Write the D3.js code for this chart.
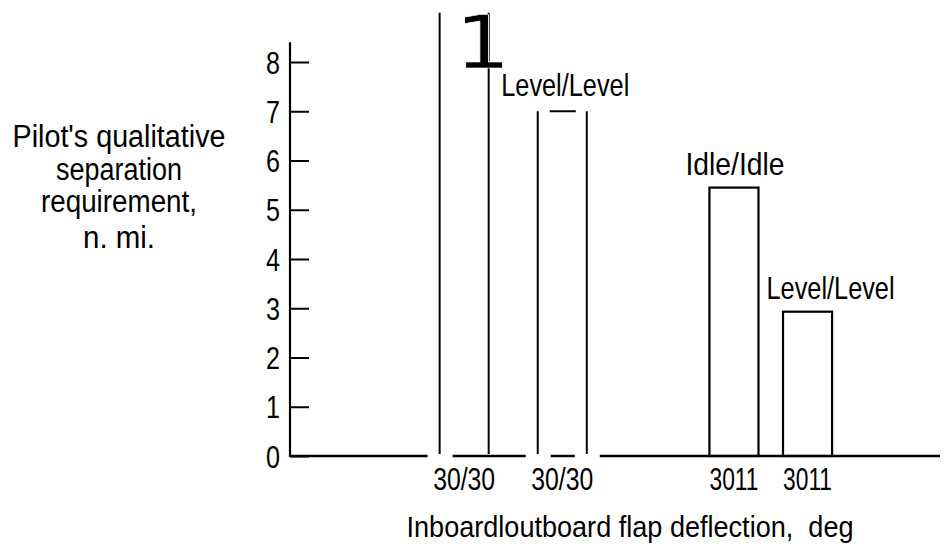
<!DOCTYPE html>
<html><head><meta charset="utf-8">
<script src="https://cdn.jsdelivr.net/npm/d3@7"></script>
<style>html,body{margin:0;padding:0;background:#fff;} svg{display:block}</style>
</head><body>
<svg id="chart" width="949" height="550"></svg>
<script>
// ---- data ----
const categories = ["30/30", "30/30", "3011", "3011"];
const barLabels = ["", "Level/Level", "Idle/Idle", "Level/Level"];
const values = [9, 7, 5.45, 2.93];
const yTicks = [0, 1, 2, 3, 4, 5, 6, 7, 8];
const yTitle = ["Pilot's qualitative", "separation", "requirement,", "n. mi."];
const xTitle = "Inboardloutboard flap deflection,  deg";
const cornerMark = "1";

// ---- layout ----
const barSlot = [0, 4, 11, 14];
const openBar = [true, true, false, false];
const labelDx = [0, 3, 1, 23];
const FONT = "'Liberation Sans Narrow','Arial Narrow','Liberation Sans',Arial,sans-serif";

const svg = d3.select("#chart");
const y = d3.scaleLinear().domain([0, 8]).range([456, 62]);
const x = d3.scaleLinear().domain([-7.1, 19.4]).range([290, 940]);

// y axis
const yAxis = d3.axisLeft(y).tickValues(yTicks).tickSizeInner(-19).tickSizeOuter(0).tickPadding(10);
const ga = svg.append("g").attr("transform", "translate(290,0)").call(yAxis);
ga.select(".domain").remove();
ga.selectAll(".tick line").attr("stroke", "#000").attr("stroke-width", 2);
ga.selectAll(".tick text").attr("font-family", FONT).attr("font-size", 31).attr("fill", "#000")
  .attr("dy", "0.36em").attr("textLength", 14).attr("lengthAdjust", "spacingAndGlyphs");
svg.append("line").attr("x1", 290).attr("x2", 290).attr("y1", y(0) + 1).attr("y2", y(8.4))
  .attr("stroke", "#000").attr("stroke-width", 2.2);

// baseline with gaps near open bar edges
const gapEdges = [];
categories.forEach((c, i) => {
  if (openBar[i]) {
    gapEdges.push(x(barSlot[i] - 1));
    if (i > 0) gapEdges.push(x(barSlot[i] + 1));
  }
});
gapEdges.sort((a, b) => a - b);
let segs = [], start = x.range()[0];
gapEdges.forEach(e => { segs.push([start, e - 12]); start = e + 13; });
segs.push([start, x.range()[1]]);
svg.selectAll(".base").data(segs).join("line")
  .attr("x1", d => d[0]).attr("x2", d => d[1]).attr("y1", y(0)).attr("y2", y(0))
  .attr("stroke", "#000").attr("stroke-width", 2.5);

// bars
categories.forEach((c, i) => {
  const xl = x(barSlot[i] - 1), xr = x(barSlot[i] + 1), yt = y(values[i]);
  if (openBar[i]) {
    svg.append("line").attr("x1", xl).attr("x2", xl).attr("y1", yt).attr("y2", y(0) - 2)
      .attr("stroke", "#000").attr("stroke-width", 2);
    svg.append("line").attr("x1", xr).attr("x2", xr).attr("y1", yt).attr("y2", y(0) - 2)
      .attr("stroke", "#000").attr("stroke-width", 2);
    if (i > 0) {
      svg.append("line").attr("x1", xl + 12).attr("x2", xr - 11).attr("y1", yt).attr("y2", yt)
        .attr("stroke", "#000").attr("stroke-width", 2);
    }
  } else {
    svg.append("rect").attr("x", xl).attr("y", yt).attr("width", xr - xl).attr("height", y(0) - yt)
      .attr("fill", "none").attr("stroke", "#000").attr("stroke-width", 2.2);
  }
});

// category labels
svg.selectAll(".cat").data(categories).join("text")
  .attr("x", (d, i) => x(barSlot[i])).attr("y", 490)
  .attr("text-anchor", "middle").attr("font-family", FONT).attr("font-size", 32)
  .attr("textLength", d => d.includes("/") ? 62 : 49).attr("lengthAdjust", "spacingAndGlyphs")
  .text(d => d);

// bar labels
const labelLen = { "Level/Level": 128, "Idle/Idle": 99 };
barLabels.forEach((t, i) => {
  if (!t) return;
  const yt = y(values[i]);
  svg.append("text").attr("x", x(barSlot[i]) + labelDx[i]).attr("y", yt - (i === 1 ? 15 : 13))
    .attr("text-anchor", "middle").attr("font-family", FONT).attr("font-size", 32)
    .attr("textLength", labelLen[t]).attr("lengthAdjust", "spacingAndGlyphs").text(t);
});

// corner mark
svg.append("text").attr("x", x(barSlot[0] + 1) - 6).attr("y", 68)
  .attr("text-anchor", "middle").attr("font-family", "'DejaVu Sans',sans-serif").attr("font-size", 73)
  .attr("textLength", 56).attr("lengthAdjust", "spacingAndGlyphs")
  .attr("stroke", "#fff").attr("stroke-width", 0.7)
  .text(cornerMark);

// y title
const yTitleBase = [147, 180, 212, 248];
const yTitleLen = [213, 126, 156, 72];
yTitle.forEach((t, i) => {
  svg.append("text").attr("x", 119).attr("y", yTitleBase[i]).attr("text-anchor", "middle")
    .attr("font-family", FONT).attr("font-size", 31)
    .attr("textLength", yTitleLen[i]).attr("lengthAdjust", "spacingAndGlyphs").text(t);
});

// x title
svg.append("text").attr("x", 630).attr("y", 537).attr("text-anchor", "middle")
  .attr("font-family", FONT).attr("font-size", 29).attr("xml:space", "preserve")
  .attr("textLength", 447).attr("lengthAdjust", "spacingAndGlyphs").text(xTitle);
</script>
</body></html>
